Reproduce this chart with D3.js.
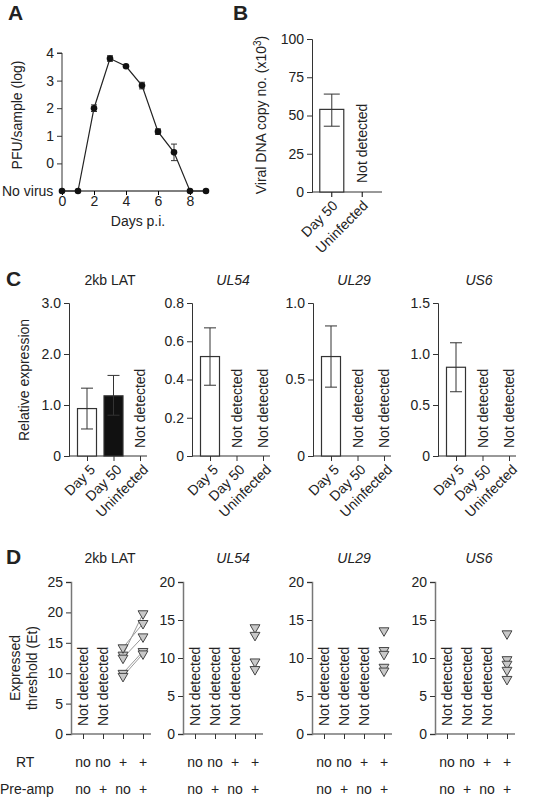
<!DOCTYPE html>
<html>
<head>
<meta charset="UTF-8">
<script src="https://d3js.org/d3.v7.min.js"></script>
<style>
body { margin: 0; background: #fff; }
text { font-family: "Liberation Sans", Arial, sans-serif; fill: #222; }
</style>
</head>
<body>
<script>
// Panel A: virus titre
var aDays = [0, 1, 2, 3, 4, 5, 6, 7, 8, 9];
var aVals = [-1, -1, 2.0, 3.8, 3.52, 2.82, 1.15, 0.4, -1, -1];
var aErr = [0, 0, 0.12, 0.1, 0.04, 0.12, 0.1, 0.3, 0, 0];
var aTicks = [0, 1, 2, 3, 4];

// Panel B: viral DNA
var bCats = ["Day 50", "Uninfected"];
var bVals = [54, null];
var bLo = [43, null];
var bHi = [64, null];

// Panel C: relative expression
var cCats = ["Day 5", "Day 50", "Uninfected"];
var cTitles = ["2kb LAT", "UL54", "UL29", "US6"];
var cMax = [3.0, 0.8, 1.0, 1.5];
var cTicks = [[0, 1.0, 2.0, 3.0], [0, 0.2, 0.4, 0.6, 0.8], [0, 0.5, 1.0], [0, 0.5, 1.0, 1.5]];
var cTickFmt = [[0, "1.0", "2.0", "3.0"], [0, "0.2", "0.4", "0.6", "0.8"], [0, "0.5", "1.0"], [0, "0.5", "1.0", "1.5"]];
var cVals = [[0.93, 1.18, null], [0.52, null, null], [0.65, null, null], [0.87, null, null]];
var cLo = [[0.53, 0.8, null], [0.37, null, null], [0.45, null, null], [0.63, null, null]];
var cHi = [[1.33, 1.58, null], [0.67, null, null], [0.85, null, null], [1.11, null, null]];

// Panel D: Et values for RT+/pre-amp+ etc.
var dMax = [25, 20, 20, 20];
var dTicks = [[0, 5, 10, 15, 20, 25], [0, 5, 10, 15, 20], [0, 5, 10, 15, 20], [0, 5, 10, 15, 20]];
var dRT = ["no", "no", "+", "+"];
var dPre = ["no", "+", "no", "+"];
var dCol3 = [[13, 14.2, 12.5, 10, 9.5], [], [], []];
var dCol4 = [[19.8, 18.2, 16, 13.6, 13.2], [14, 13, 9.5, 8.5], [13.6, 11, 10.5, 8.8, 8.3], [13.2, 9.8, 9.2, 8.4, 7.2]];

var FS = "14px";
var svg = d3.select("body").append("svg").attr("width", 556).attr("height", 800);

function letter(t, x, y) {
  svg.append("text").attr("x", x).attr("y", y).text(t)
    .style("font-size", "21px").style("font-weight", "bold");
}
function yAxis(g, y, ticks, fmt) {
  var ax = g.append("g").call(d3.axisLeft(y).tickValues(ticks).tickSize(5).tickPadding(3)
    .tickFormat(function(d, i) { return fmt ? fmt[i] : d; }));
  ax.selectAll("text").style("font-size", FS);
  ax.select(".domain").attr("stroke", "#333");
  ax.selectAll("line").attr("stroke", "#333");
  return ax;
}
function errBar(g, x, lo, hi, w) {
  g.append("line").attr("x1", x).attr("x2", x).attr("y1", lo).attr("y2", hi).attr("stroke", "#333");
  g.append("line").attr("x1", x - w).attr("x2", x + w).attr("y1", hi).attr("y2", hi).attr("stroke", "#333");
  g.append("line").attr("x1", x - w).attr("x2", x + w).attr("y1", lo).attr("y2", lo).attr("stroke", "#333");
}
function notDet(g, x, y) {
  g.append("text").attr("transform", "translate(" + (x + 5) + "," + y + ") rotate(-90)")
    .text("Not detected").style("font-size", FS);
}

// ---- A ----
letter("A", 8, 20);
(function() {
  var g = svg.append("g");
  var x = d3.scaleLinear().domain([0, 9]).range([62, 206]);
  var y = d3.scaleLinear().domain([-1, 4]).range([191, 53]);
  var ax = yAxis(g.append("g").attr("transform", "translate(62,0)"), y, aTicks);
  ax.select(".domain").attr("d", "M-5," + y(4) + "H0V" + y(-1));
  g.append("text").attr("x", 2).attr("y", y(-1) + 5).text("No virus").style("font-size", FS);
  var xa = g.append("g").attr("transform", "translate(0,191)")
    .call(d3.axisBottom(x).tickValues([0, 2, 4, 6, 8]).tickSize(4).tickPadding(1));
  xa.selectAll("text").style("font-size", FS);
  xa.select(".domain").attr("d", "M62,0H206");
  g.append("text").attr("x", 138).attr("y", 226).attr("text-anchor", "middle").text("Days p.i.").style("font-size", FS);
  g.append("text").attr("transform", "translate(22,115) rotate(-90)").attr("text-anchor", "middle")
    .text("PFU/sample (log)").style("font-size", FS);
  g.append("path").datum(aDays).attr("fill", "none").attr("stroke", "#222").attr("stroke-width", 1.2)
    .attr("d", d3.line().x(function(d) { return x(d); }).y(function(d, i) { return y(aVals[i]); }));
  aDays.forEach(function(d, i) {
    if (aErr[i] > 0.05) errBar(g, x(d), y(aVals[i] - aErr[i]), y(aVals[i] + aErr[i]), 3);
  });
  g.selectAll("circle").data(aDays).enter().append("circle")
    .attr("cx", function(d) { return x(d); }).attr("cy", function(d, i) { return y(aVals[i]); })
    .attr("r", 3.3).attr("fill", "#111");
})();

// ---- B ----
letter("B", 233, 20);
(function() {
  var g = svg.append("g");
  var x = d3.scaleBand().domain(bCats).range([312, 382]).padding(0.3);
  var y = d3.scaleLinear().domain([0, 100]).range([192, 39]);
  yAxis(g.append("g").attr("transform", "translate(312,0)"), y, [0, 25, 50, 75, 100]);
  var xa = g.append("g").attr("transform", "translate(0,192)").call(d3.axisBottom(x).tickSize(5));
  xa.select(".domain").attr("d", "M312,0H382").attr("stroke", "#333");
  xa.selectAll("text").style("font-size", FS).attr("text-anchor", "end")
    .attr("transform", "rotate(-45)").attr("dx", "-0.4em").attr("dy", "0.5em");
  g.append("text").attr("transform", "translate(266,115) rotate(-90)").attr("text-anchor", "middle")
    .style("font-size", FS).html('Viral DNA copy no. (x10<tspan dy="-5" style="font-size:10px">3</tspan><tspan dy="5">)</tspan>');
  bCats.forEach(function(c, i) {
    var cx = x(c) + x.bandwidth() / 2;
    if (bVals[i] == null) { notDet(g, cx, 183); return; }
    g.append("rect").attr("x", cx - 12).attr("width", 24).attr("y", y(bVals[i])).attr("height", y(0) - y(bVals[i]))
      .attr("fill", "#fff").attr("stroke", "#333").attr("stroke-width", 1.2);
    errBar(g, cx, y(bLo[i]), y(bHi[i]), 8);
  });
})();

// ---- C ----
letter("C", 6, 286);
var cAxisX = [69, 192, 313, 438];
cTitles.forEach(function(t, p) {
  var g = svg.append("g");
  var x0 = cAxisX[p];
  var x = d3.scalePoint().domain(cCats).range([x0 + 18, x0 + 71]);
  var y = d3.scaleLinear().domain([0, cMax[p]]).range([456, 303]);
  yAxis(g.append("g").attr("transform", "translate(" + x0 + ",0)"), y, cTicks[p], cTickFmt[p]);
  var xa = g.append("g").attr("transform", "translate(0,456)").call(d3.axisBottom(x).tickSize(5));
  xa.select(".domain").attr("d", "M" + x0 + ",0H" + (x0 + 78)).attr("stroke", "#333");
  xa.selectAll("line").attr("stroke", "#333");
  xa.selectAll("text").style("font-size", FS).attr("text-anchor", "end")
    .attr("transform", "rotate(-45)").attr("dx", "-0.3em").attr("dy", "0.6em");
  g.append("text").attr("x", x0 + 41).attr("y", 285).attr("text-anchor", "middle").text(t)
    .style("font-size", FS).style("font-style", p == 0 ? "normal" : "italic");
  cCats.forEach(function(c, i) {
    var cx = x(c);
    var v = cVals[p][i];
    if (v == null) { notDet(g, cx, 448); return; }
    g.append("rect").attr("x", cx - 9.5).attr("width", 19).attr("y", y(v)).attr("height", y(0) - y(v))
      .attr("fill", i == 1 ? "#111" : "#fff").attr("stroke", "#333").attr("stroke-width", 1.2);
    errBar(g, cx, y(cLo[p][i]), y(cHi[p][i]), 6);
  });
  if (p == 0) g.append("text").attr("transform", "translate(29,380) rotate(-90)").attr("text-anchor", "middle")
    .text("Relative expression").style("font-size", FS);
});

// ---- D ----
letter("D", 6, 564);
var dAxisX = [71, 183, 312, 435];
var dCols = [0, 1, 2, 3];
dMax.forEach(function(m, p) {
  var g = svg.append("g");
  var x0 = dAxisX[p];
  var x = d3.scalePoint().domain(dCols).range([x0 + 12, x0 + 72]);
  var y = d3.scaleLinear().domain([0, m]).range([734, 582]);
  var ax = yAxis(g.append("g").attr("transform", "translate(" + x0 + ",0)"), y, dTicks[p]);
  ax.select(".domain").attr("stroke", "#777").attr("stroke-width", 1.5);
  var xa = g.append("g").attr("transform", "translate(0,734)").call(d3.axisBottom(x).tickSize(5).tickFormat(""));
  xa.select(".domain").attr("d", "M" + x0 + ",0H" + (x0 + 80)).attr("stroke", "#777").attr("stroke-width", 1.5);
  xa.selectAll("line").attr("stroke", "#333");
  g.append("text").attr("x", cAxisX[p] + 41).attr("y", 563).attr("text-anchor", "middle").text(cTitles[p])
    .style("font-size", FS).style("font-style", p == 0 ? "normal" : "italic");
  dCols.forEach(function(c) {
    g.append("text").attr("x", x(c)).attr("y", 767).attr("text-anchor", "middle").text(dRT[c]).style("font-size", FS);
    g.append("text").attr("x", x(c)).attr("y", 794).attr("text-anchor", "middle").text(dPre[c]).style("font-size", FS);
  });
  var nd = p == 0 ? [0, 1] : [0, 1, 2];
  nd.forEach(function(c) { notDet(g, x(c), 726); });
  // connecting lines for paired samples
  dCol3[p].forEach(function(v, i) {
    g.append("line").attr("x1", x(2)).attr("y1", y(v)).attr("x2", x(3)).attr("y2", y(dCol4[p][i]))
      .attr("stroke", "#999").attr("stroke-width", 1);
  });
  var tri = d3.symbol().type(d3.symbolTriangle).size(42);
  [[2, dCol3[p]], [3, dCol4[p]]].forEach(function(col) {
    g.selectAll(null).data(col[1]).enter().append("path").attr("d", tri)
      .attr("transform", function(v) { return "translate(" + x(col[0]) + "," + y(v) + ") rotate(180)"; })
      .attr("fill", "#c8c8c8").attr("stroke", "#444").attr("stroke-width", 1);
  });
});
svg.append("text").attr("transform", "translate(20,668) rotate(-90)").attr("text-anchor", "middle")
  .text("Expressed").style("font-size", FS);
svg.append("text").attr("transform", "translate(37,668) rotate(-90)").attr("text-anchor", "middle")
  .text("threshold (Et)").style("font-size", FS);
svg.append("text").attr("x", 16).attr("y", 767).text("RT").style("font-size", FS);
svg.append("text").attr("x", 0).attr("y", 794).text("Pre-amp").style("font-size", FS);
</script>
</body>
</html>
